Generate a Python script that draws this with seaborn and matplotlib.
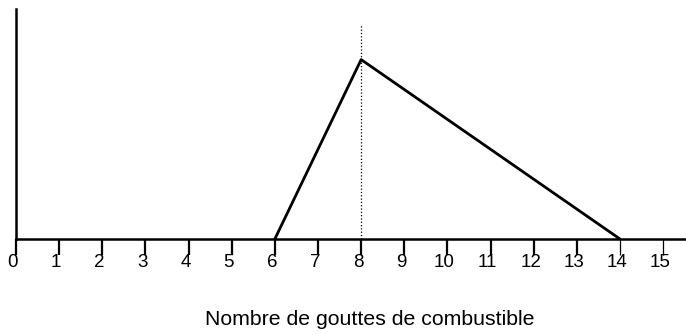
import matplotlib
matplotlib.use("Agg")
import matplotlib.pyplot as plt
import matplotlib.transforms as mtransforms
import seaborn as sns
import pandas as pd

sns.set_style("white")
plt.rcParams['font.family'] = ['Liberation Sans', 'DejaVu Sans']
plt.rcParams['text.color'] = 'black'
plt.rcParams['xtick.color'] = 'black'
plt.rcParams['axes.labelcolor'] = 'black'

# data
gouttes = [6, 8, 14]
niveau = [0, 0.78, 0]
tick_values = list(range(16))
tick_labels = [str(v) for v in tick_values]
pic = 8
xlabel = "Nombre de gouttes de combustible"

df = pd.DataFrame({"gouttes": gouttes, "niveau": niveau})

fig = plt.figure(figsize=(6.86, 3.35), dpi=100)
ax = fig.add_axes([16 / 686, 96 / 335, 670 / 686, 230 / 335])

sns.lineplot(data=df, x="gouttes", y="niveau", sort=False, color="black",
             linewidth=2.0, ax=ax)
ax.axvline(pic, ymax=0.935, color="black", linestyle=":", linewidth=0.9)

ax.set_xlim(0, 15.53)
ax.set_ylim(0, 1)
ax.set_yticks([])
ax.set_ylabel("")

ax.set_xticks(tick_values)
ax.set_xticklabels(tick_labels, fontsize=13.5)
ax.tick_params(axis="x", direction="out", length=11.5, width=1.6, pad=-0.8,
               color="black", labelcolor="black", bottom=True)
for i, t in enumerate(ax.xaxis.get_major_ticks()):
    if i >= 14:
        t.tick1line.set_linestyle((0, (1.5, 1.5)))
        t.tick1line.set_markeredgewidth(0.9)
shift = mtransforms.ScaledTranslation(-3 / 100, 0, fig.dpi_scale_trans)
for lab in ax.get_xticklabels():
    lab.set_transform(lab.get_transform() + shift)

ax.set_xlabel(xlabel, fontsize=15.3, color="black")
ax.xaxis.set_label_coords(0.528, -0.31)

sns.despine(ax=ax, top=True, right=True)
for side in ["left", "bottom"]:
    ax.spines[side].set_linewidth(1.8)
    ax.spines[side].set_color("black")

fig.savefig("out.png", dpi=100)
